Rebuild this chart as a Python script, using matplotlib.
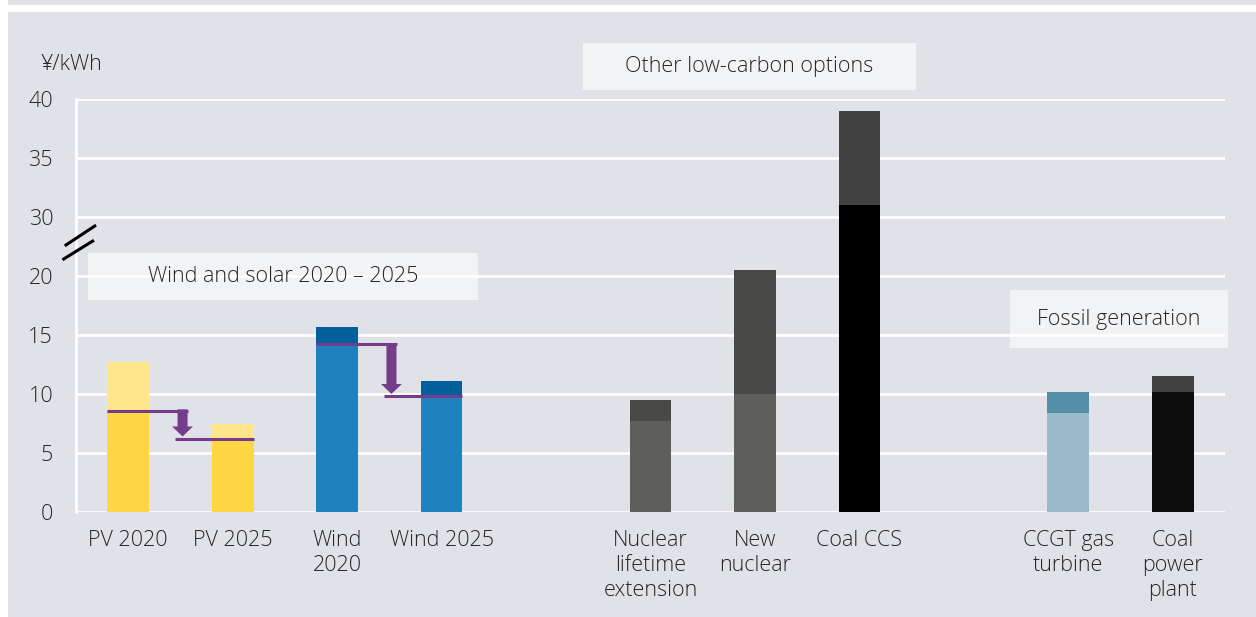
import numpy as np
import matplotlib
matplotlib.use("Agg")
import matplotlib.pyplot as plt
from matplotlib.patches import Rectangle, FancyArrow

# ---------------- data ----------------
categories = ["PV 2020", "PV 2025", "Wind\n2020", "Wind 2025",
              "Nuclear\nlifetime\nextension", "New\nnuclear", "Coal CCS",
              "CCGT gas\nturbine", "Coal\npower\nplant"]
base_values = [8.6, 6.2, 14.2, 9.8, 7.7, 10.0, 31.0, 8.4, 10.2]
total_values = [12.7, 7.5, 15.7, 11.1, 9.5, 21.0, 39.0, 10.2, 11.5]
lower_colors = ["#FFD742", "#FFD742", "#1F82C0", "#1F82C0", "#5E5F5A", "#5E5F5A",
                "#000000", "#99BBCC", "#0D0D0D"]
upper_colors = ["#FFE68C", "#FFE68C", "#00609C", "#00609C", "#484846", "#484846",
                "#414141", "#548FA8", "#414141"]
group_sizes = [4, 3, 2]
ytick_values = [0, 5, 10, 15, 20, 30, 35, 40]
group_titles = ["Wind and solar 2020 \u2013 2025", "Other low-carbon options", "Fossil generation"]
unit_label = "\u00a5/kWh"

# positions: groups separated by one empty slot
positions = []
p = 0
for g in group_sizes:
    positions.extend(range(p, p + g))
    p += g + 1
positions = np.array(positions, dtype=float)

# broken axis: 20-30 compressed into half the space
def fwd(v):
    v = np.asarray(v, dtype=float)
    return np.where(v <= 20, v, np.where(v <= 30, 20 + (v - 20) * 0.5, v - 5))

def inv(u):
    u = np.asarray(u, dtype=float)
    return np.where(u <= 20, u, np.where(u <= 25, 20 + (u - 20) * 2, u + 5))

BG = "#E1E2E7"
PURPLE = "#763C8C"
TXT = "#262626"
FS = 15.5
plt.rcParams["font.family"] = ["Open Sans", "DejaVu Sans"]
plt.rcParams["font.weight"] = "light"

fig = plt.figure(figsize=(12.56, 6.17), dpi=100, facecolor="white")
# background panels
fig.patches.append(Rectangle((8 / 1256, 1 - 5 / 617), 1 - 8 / 1256, 5 / 617,
                             transform=fig.transFigure, facecolor=BG, edgecolor="none", zorder=-10))
fig.patches.append(Rectangle((8 / 1256, 0), 1 - 8 / 1256, 1 - 12 / 617,
                             transform=fig.transFigure, facecolor=BG, edgecolor="none", zorder=-10))

ax = fig.add_axes([76 / 1256, 105 / 617, 1149 / 1256, 413 / 617])
ax.set_facecolor("none")
ax.set_yscale("function", functions=(fwd, inv))
ax.set_ylim(0, 40)
ax.set_xlim(-0.5, 10.5)

base = np.array(base_values)
total = np.array(total_values)
bw = 0.4
ax.bar(positions, base, width=bw, color=lower_colors, zorder=3)
ax.bar(positions, total - base, bottom=base, width=bw, color=upper_colors, zorder=3)

ax.set_yticks(ytick_values)
ax.set_yticklabels([str(v) for v in ytick_values])
ax.grid(axis="y", color="white", lw=2, zorder=0)
ax.set_axisbelow(True)
for s in ["top", "right", "bottom"]:
    ax.spines[s].set_visible(False)
ax.spines["left"].set_color("white")
ax.spines["left"].set_linewidth(2)
ax.tick_params(axis="y", length=0, pad=16.5, labelsize=FS, labelcolor=TXT)
ax.tick_params(axis="x", length=0, pad=13, labelsize=FS, labelcolor=TXT)
ax.set_xticks(positions)
ax.set_xticklabels(categories, linespacing=1.25)

# purple reduction markers (2020 -> 2025)
for i0, i1 in [(0, 1), (2, 3)]:
    x0, x1 = positions[i0], positions[i1]
    lvl0, lvl1 = base[i0], base[i1]
    xs = x0 + 0.52
    ax.plot([x0 - bw / 2, xs + 0.05], [lvl0, lvl0], color=PURPLE, lw=2.2, zorder=4,
            solid_capstyle="butt")
    ax.plot([x1 - 0.55, x1 + bw / 2], [lvl1, lvl1], color=PURPLE, lw=2.2, zorder=4,
            solid_capstyle="butt")
    tip = lvl1 + 0.2
    ax.add_patch(FancyArrow(xs, lvl0 + 0.1, 0, tip - lvl0 - 0.1, width=0.096,
                            head_width=0.2, head_length=0.85, length_includes_head=True,
                            color=PURPLE, lw=0, zorder=4))

# axis break marks
ax.plot([-0.0087, 0.0163], [0.6465, 0.6925], transform=ax.transAxes, color="black",
        lw=2.2, clip_on=False, zorder=5)
ax.plot([-0.0107, 0.0145], [0.6126, 0.656], transform=ax.transAxes, color="black",
        lw=2.2, clip_on=False, zorder=5)

# unit label
fig.text(41 / 1256, 1 - 64 / 617, unit_label, fontsize=FS, color=TXT,
         ha="left", va="center")

# group title boxes (pixel boxes -> figure fractions)
boxes = [(88, 253, 478, 300), (583, 43, 916, 90), (1010, 290, 1228, 348)]
for title, (l, t, r, b) in zip(group_titles, boxes):
    fig.patches.append(Rectangle((l / 1256, 1 - b / 617), (r - l) / 1256, (b - t) / 617,
                                 transform=fig.transFigure, facecolor="white", alpha=0.6,
                                 edgecolor="none", zorder=6))
    fig.text((l + r) / 2 / 1256, 1 - (t + b) / 2 / 617, title, fontsize=FS,
             color=TXT, ha="center", va="center", zorder=7)

fig.savefig("out.png", dpi=100, facecolor=fig.get_facecolor())
